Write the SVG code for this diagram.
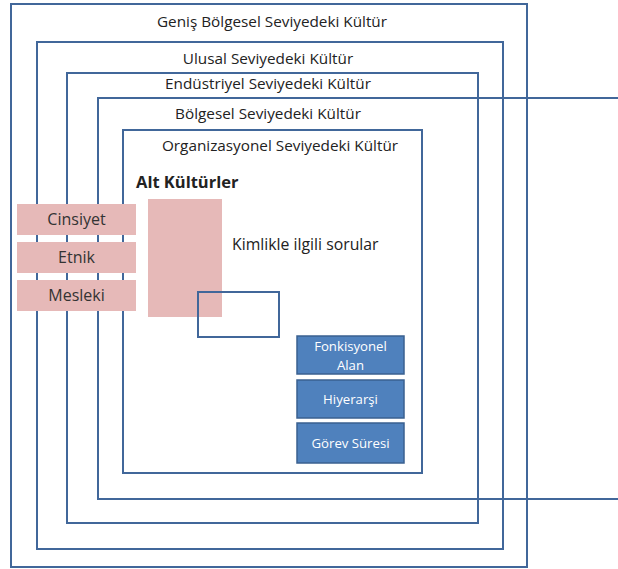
<svg xmlns="http://www.w3.org/2000/svg" width="618" height="569" viewBox="0 0 618 569">
<style>
.frame{fill:none;stroke:#41679a;stroke-width:2}
.lbl{font-family:"Open Sans","Liberation Sans",sans-serif;font-size:15.3px;fill:#222;text-anchor:middle}
.pink{fill:#e6b9b8}
.pt{font-family:"Open Sans","Liberation Sans",sans-serif;font-size:16px;fill:#333;text-anchor:middle}
.blue{fill:#4f81bd;stroke:#3a6090;stroke-width:1.5}
.bt{font-family:"Open Sans","Liberation Sans",sans-serif;font-size:13.2px;fill:#fff;text-anchor:middle}
</style>
<rect width="618" height="569" fill="#fff"/>
<g id="genis">
<rect class="frame" x="11" y="4" width="516" height="563"/>
<text class="lbl" x="272" y="27">Geniş Bölgesel Seviyedeki Kültür</text>
</g>
<g id="ulusal">
<rect class="frame" x="37" y="42" width="466" height="507"/>
<text class="lbl" x="268" y="64">Ulusal Seviyedeki Kültür</text>
</g>
<g id="endustriyel">
<rect class="frame" x="67" y="73" width="411" height="450"/>
<text class="lbl" x="268" y="89">Endüstriyel Seviyedeki Kültür</text>
</g>
<g id="bolgesel">
<path class="frame" d="M618 98 H98 V499 H618"/>
<text class="lbl" x="268" y="119">Bölgesel Seviyedeki Kültür</text>
</g>
<g id="organizasyonel">
<rect class="frame" x="123" y="130" width="299" height="343"/>
<text class="lbl" x="280" y="151">Organizasyonel Seviyedeki Kültür</text>
</g>
<g id="alt-kulturler">
<text x="136" y="188" font-family="'Open Sans','Liberation Sans',sans-serif" font-size="16.5" font-weight="bold" fill="#222">Alt Kültürler</text>
<rect class="pink" x="148" y="199" width="74" height="118"/>
</g>
<g id="kimlik">
<text x="232" y="250" font-family="'Open Sans','Liberation Sans',sans-serif" font-size="15.8" fill="#222">Kimlikle ilgili sorular</text>
<rect x="198" y="292" width="81" height="45" fill="none" stroke="#41679a" stroke-width="2"/>
</g>
<g id="cinsiyet">
<rect class="pink" x="17" y="204" width="119" height="31"/>
<text class="pt" x="76.5" y="225">Cinsiyet</text>
</g>
<g id="etnik">
<rect class="pink" x="17" y="242" width="119" height="31"/>
<text class="pt" x="76.5" y="263">Etnik</text>
</g>
<g id="mesleki">
<rect class="pink" x="17" y="280" width="119" height="31"/>
<text class="pt" x="76.5" y="301">Mesleki</text>
</g>
<g id="fonksiyonel">
<rect class="blue" x="297" y="336" width="107" height="38"/>
<text class="bt" x="350.5" y="350.5">Fonkisyonel</text>
<text class="bt" x="350.5" y="369.5">Alan</text>
</g>
<g id="hiyerarsi">
<rect class="blue" x="297" y="380" width="107" height="38"/>
<text class="bt" x="350.5" y="404">Hiyerarşi</text>
</g>
<g id="gorev">
<rect class="blue" x="297" y="423" width="107" height="40"/>
<text class="bt" x="350.5" y="448">Görev Süresi</text>
</g>
<g id="connectors"></g>
</svg>
